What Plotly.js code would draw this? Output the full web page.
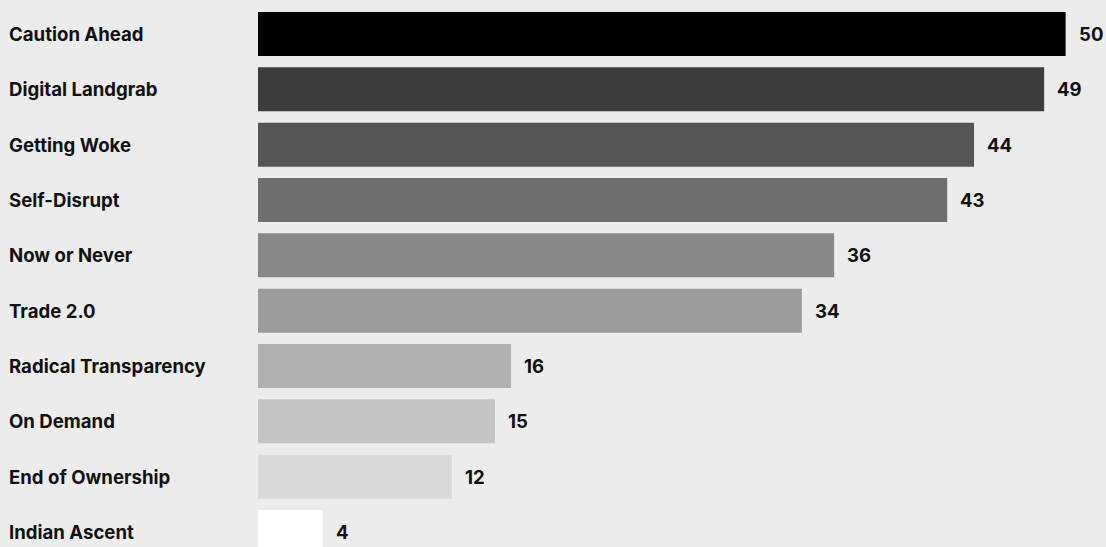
<!DOCTYPE html>
<html>
<head>
<meta charset="utf-8">
<script src="https://cdn.plot.ly/plotly-3.0.1.min.js"></script>
<style>
  html, body { margin: 0; padding: 0; background: #ececec; }
  #chart { width: 1106px; height: 547px; }
</style>
</head>
<body>
<div id="chart"></div>
<script>
const categories = ["Caution Ahead", "Digital Landgrab", "Getting Woke", "Self-Disrupt", "Now or Never",
  "Trade 2.0", "Radical Transparency", "On Demand", "End of Ownership", "Indian Ascent"];
const values = [50, 48.67, 44.33, 42.67, 35.67, 33.67, 15.67, 14.67, 12, 4];
const barColors = ["#000000", "#3d3d3b", "#555553", "#6e6e6e", "#888888", "#9c9c9a", "#b0b0b0", "#c4c4c4", "#d9d9d9", "#ffffff"];

const labelFont = { family: "Inter, 'Noto Sans', sans-serif", size: 18.6, color: "#111111", weight: 700 };

const trace = {
  type: "bar",
  orientation: "h",
  y: categories,
  x: values,
  width: 0.795,
  marker: { color: barColors, line: { width: 0 } },
  hoverinfo: "skip"
};

const annotations = [];
categories.forEach((c, i) => {
  annotations.push({
    xref: "paper", yref: "y", x: 0, y: c, xanchor: "left", yanchor: "middle",
    xshift: 7, text: c, showarrow: false, font: labelFont
  });
  annotations.push({
    xref: "x", yref: "y", x: values[i], y: c, xanchor: "left", yanchor: "middle",
    xshift: 11, text: String(Math.round(values[i])), showarrow: false, font: labelFont
  });
});

const layout = {
  width: 1106, height: 547,
  margin: { l: 0, r: 0, t: 0, b: 0, pad: 0 },
  paper_bgcolor: "#ececec",
  plot_bgcolor: "#ececec",
  showlegend: false,
  xaxis: {
    domain: [258 / 1106, 1],
    range: [0, 52.5],
    showgrid: false, zeroline: false, showticklabels: false, showline: false, ticks: ""
  },
  yaxis: {
    type: "category",
    range: [9.271, -0.6145],
    showgrid: false, zeroline: false, showticklabels: false, showline: false, ticks: ""
  },
  annotations: annotations
};

Plotly.newPlot("chart", [trace], layout, { displayModeBar: false, staticPlot: true });
</script>
</body>
</html>
